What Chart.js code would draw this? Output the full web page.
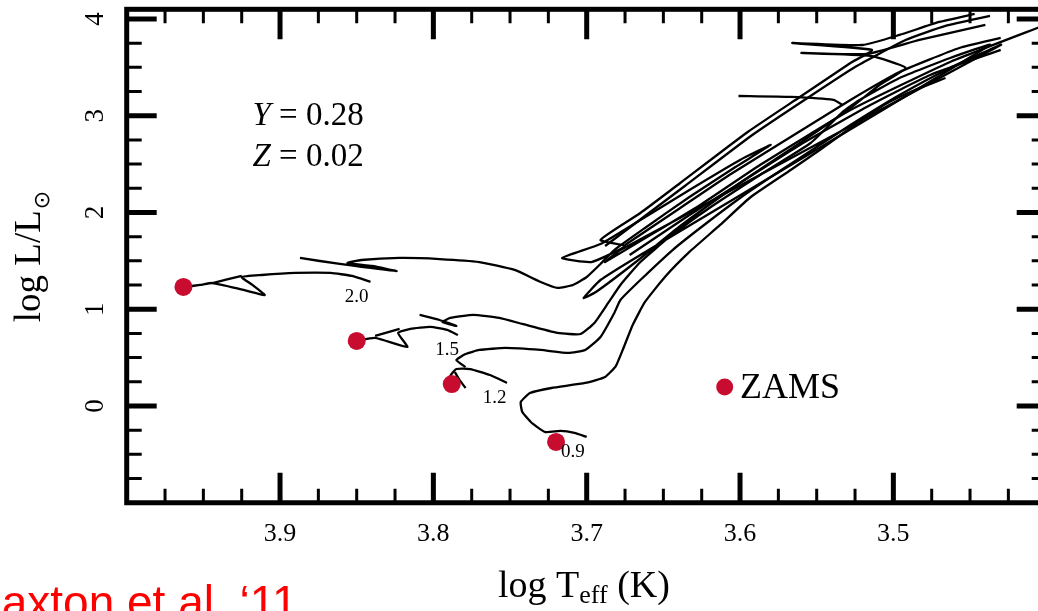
<!DOCTYPE html>
<html>
<head>
<meta charset="utf-8">
<script src="https://cdn.jsdelivr.net/npm/chart.js@4.4.1/dist/chart.umd.min.js"></script>
<style>
  html, body { margin: 0; padding: 0; background: #fff; overflow: hidden; }
</style>
</head>
<body>
<canvas id="hrd" width="1060" height="611"></canvas>
<script>
// evolutionary tracks as [log Teff, log L/Lsun]; each track is a list of pen strokes
const masses = ["2.0", "1.5", "1.2", "0.9"];

const track20 = [
  [[3.963, 1.230], [3.952, 1.251], [3.944, 1.271], [3.926, 1.209], [3.910, 1.147], [3.918, 1.251],
   [3.925, 1.333], [3.912, 1.354], [3.890, 1.375], [3.867, 1.375], [3.853, 1.344], [3.841, 1.282]],
  [[3.944, 1.271], [3.925, 1.344]],
  [[3.887, 1.530], [3.861, 1.468], [3.824, 1.395], [3.840, 1.447], [3.856, 1.478], [3.847, 1.509],
   [3.822, 1.530], [3.796, 1.519], [3.770, 1.488], [3.747, 1.406], [3.730, 1.282], [3.719, 1.220],
   [3.709, 1.251], [3.700, 1.333], [3.691, 1.468], [3.682, 1.612], [3.662, 1.840], [3.633, 2.160],
   [3.603, 2.470], [3.580, 2.698], [3.600, 2.543], [3.633, 2.233], [3.665, 1.922], [3.691, 1.674],
   [3.716, 1.530], [3.697, 1.488], [3.675, 1.654], [3.691, 1.716], [3.665, 1.995], [3.639, 2.305],
   [3.595, 2.832], [3.561, 3.194], [3.528, 3.545], [3.514, 3.680], [3.566, 3.752], [3.520, 3.731],
   [3.496, 3.835], [3.470, 3.969], [3.447, 4.052]],
  [[3.688, 1.654], [3.662, 1.964], [3.636, 2.274], [3.592, 2.801], [3.558, 3.163], [3.525, 3.504],
   [3.492, 3.783], [3.466, 3.928], [3.437, 4.031]]
];

const track15 = [
  [[3.850, 0.672], [3.838, 0.703], [3.817, 0.610], [3.823, 0.755], [3.815, 0.796], [3.802, 0.817],
   [3.791, 0.786], [3.784, 0.734]],
  [[3.838, 0.724], [3.822, 0.796]],
  [[3.809, 0.941], [3.796, 0.889], [3.785, 0.827], [3.794, 0.868], [3.789, 0.910], [3.774, 0.941],
   [3.757, 0.910], [3.742, 0.848], [3.719, 0.755], [3.704, 0.744], [3.695, 0.858], [3.686, 1.065],
   [3.678, 1.251], [3.665, 1.488], [3.646, 1.747], [3.620, 2.047], [3.587, 2.388], [3.554, 2.718],
   [3.533, 3.039], [3.522, 3.163], [3.496, 3.390], [3.463, 3.597], [3.437, 3.731], [3.665, 1.561],
   [3.691, 1.302], [3.702, 1.116], [3.694, 1.178], [3.668, 1.488], [3.639, 1.860], [3.600, 2.305],
   [3.561, 2.718], [3.528, 3.080], [3.509, 3.318], [3.492, 3.494], [3.515, 3.618], [3.560, 3.649],
   [3.517, 3.638], [3.483, 3.783], [3.440, 3.938]],
  [[3.601, 3.204], [3.567, 3.194], [3.539, 3.163], [3.533, 3.111]],
  [[3.675, 1.664], [3.639, 2.047], [3.607, 2.388], [3.567, 2.780], [3.528, 3.163], [3.496, 3.452],
   [3.457, 3.700], [3.430, 3.804]]
];

const track12 = [
  [[3.788, 0.227], [3.789, 0.310], [3.785, 0.382], [3.776, 0.382], [3.763, 0.320], [3.752, 0.238]],
  [[3.786, 0.351], [3.783, 0.269], [3.779, 0.186]],
  [[3.779, 0.403], [3.785, 0.475], [3.779, 0.537], [3.770, 0.579], [3.753, 0.600], [3.730, 0.579],
   [3.712, 0.548], [3.701, 0.579], [3.691, 0.713], [3.682, 0.961], [3.678, 1.096], [3.665, 1.302],
   [3.644, 1.612], [3.626, 1.840], [3.600, 2.150], [3.579, 2.377], [3.561, 2.563], [3.528, 2.904],
   [3.496, 3.214], [3.463, 3.494], [3.430, 3.731], [3.678, 1.612], [3.688, 1.488], [3.626, 2.078],
   [3.587, 2.491], [3.528, 3.059], [3.463, 3.556], [3.401, 3.938]],
  [[3.672, 1.561], [3.633, 1.974], [3.597, 2.336], [3.561, 2.698], [3.515, 3.111], [3.476, 3.421],
   [3.430, 3.680]]
];

const track09 = [
  [[3.700, -0.320], [3.708, -0.279], [3.717, -0.258], [3.727, -0.269], [3.735, -0.186], [3.742, -0.062],
   [3.743, 0.041], [3.737, 0.134], [3.723, 0.186], [3.701, 0.238], [3.688, 0.300], [3.681, 0.413],
   [3.676, 0.600], [3.670, 0.837], [3.662, 1.075], [3.649, 1.333], [3.633, 1.592], [3.613, 1.871],
   [3.593, 2.160], [3.567, 2.439], [3.548, 2.646], [3.528, 2.873], [3.505, 3.121], [3.486, 3.266],
   [3.466, 3.390]]
];

const tracks = [track20, track15, track12, track09];

// zero-age main sequence starting points
const zamsTeff = [3.963, 3.850, 3.788, 3.720];
const zamsLum = [1.230, 0.672, 0.227, -0.372];

// axis ticks
const xTickValues = [3.9, 3.8, 3.7, 3.6, 3.5];
const xTickLabels = ["3.9", "3.8", "3.7", "3.6", "3.5"];
const yTickValues = [0, 1, 2, 3, 4];
const yTickLabels = ["0", "1", "2", "3", "4"];

// where the mass labels sit (centre, baseline)
const massLabelAt = [[3.850, 1.078], [3.791, 0.527], [3.760, 0.031], [3.709, -0.527]];

const serif = '"Liberation Serif", "Times New Roman", serif';
const dotRed = "rgb(200, 12, 48)";

const datasets = [{
  label: "ZAMS",
  data: zamsTeff.map((t, i) => ({ x: t, y: zamsLum[i] })),
  pointRadius: 9,
  pointBackgroundColor: dotRed,
  pointBorderWidth: 0,
  showLine: false,
  order: 0
}, {
  label: "key",
  data: [{ x: 3.610, y: 0.196 }],
  pointRadius: 8.5,
  pointBackgroundColor: dotRed,
  pointBorderWidth: 0,
  showLine: false,
  order: 0
}];

tracks.forEach((segs, k) => {
  segs.forEach(seg => {
    datasets.push({
      label: masses[k],
      data: seg.map(p => ({ x: p[0], y: p[1] })),
      showLine: true,
      borderColor: "#000",
      borderWidth: 2.3,
      pointRadius: 0,
      tension: 0.15,
      order: 1
    });
  });
});

const frame = {
  id: "frame",
  afterDraw(chart) {
    const { ctx, chartArea: a, scales: { x, y } } = chart;
    ctx.save();
    ctx.strokeStyle = "#000";
    ctx.fillStyle = "#000";
    ctx.lineCap = "butt";

    // x ticks, every 0.025, bottom and top, pointing inwards
    for (let i = 1; i < 24; i++) {
      const v = 3.4 + i * 0.025;
      const major = Math.abs(v * 10 - Math.round(v * 10)) < 1e-6;
      const len = major ? 30 : 14;
      const px = x.getPixelForValue(v);
      ctx.lineWidth = major ? 5 : 3;
      ctx.beginPath();
      ctx.moveTo(px, a.bottom); ctx.lineTo(px, a.bottom - len);
      ctx.moveTo(px, a.top); ctx.lineTo(px, a.top + len);
      ctx.stroke();
    }
    // y ticks, every 0.25, left and right
    for (let i = 1; i <= 20; i++) {
      const v = -1 + i * 0.25;
      const major = Math.abs(v - Math.round(v)) < 1e-6;
      const len = major ? 30 : 15;
      const py = y.getPixelForValue(v);
      ctx.lineWidth = major ? 5 : 3;
      ctx.beginPath();
      ctx.moveTo(a.left, py); ctx.lineTo(a.left + len, py);
      ctx.moveTo(a.right, py); ctx.lineTo(a.right - len, py);
      ctx.stroke();
    }
    // frame
    ctx.lineWidth = 5;
    ctx.strokeRect(a.left, a.top, a.right - a.left, a.bottom - a.top);

    // tick labels
    ctx.font = "26px " + serif;
    ctx.textAlign = "center";
    ctx.textBaseline = "alphabetic";
    xTickValues.forEach((v, i) => {
      ctx.fillText(xTickLabels[i], x.getPixelForValue(v), a.bottom + 38);
    });
    ctx.font = "27px " + serif;
    yTickValues.forEach((v, i) => {
      ctx.save();
      ctx.translate(a.left - 24, y.getPixelForValue(v));
      ctx.rotate(-Math.PI / 2);
      ctx.fillText(yTickLabels[i], 0, 0);
      ctx.restore();
    });

    // x axis title: log T_eff (K)
    ctx.textAlign = "left";
    const big = "38px " + serif, small = "26px " + serif;
    ctx.font = big;
    const w1 = ctx.measureText("log T").width;
    const w3 = ctx.measureText(" (K)").width;
    ctx.font = small;
    const w2 = ctx.measureText("eff").width;
    let sx = 584 - (w1 + w2 + w3) / 2;
    ctx.font = big; ctx.fillText("log T", sx, 597);
    ctx.font = small; ctx.fillText("eff", sx + w1, 603);
    ctx.font = big; ctx.fillText(" (K)", sx + w1 + w2, 597);

    // y axis title: log L/L_sun, reading upwards
    ctx.save();
    ctx.translate(40, 257);
    ctx.rotate(-Math.PI / 2);
    ctx.font = "37px " + serif;
    const m1 = ctx.measureText("log L/L").width;
    ctx.font = '22px "DejaVu Sans", ' + serif;
    const m2 = ctx.measureText("\u2299").width;
    const st = -(m1 + m2) / 2;
    ctx.font = "37px " + serif;
    ctx.fillText("log L/L", st, 0);
    ctx.font = '22px "DejaVu Sans", ' + serif;
    ctx.fillText("\u2299", st + m1 + 1, 9);
    ctx.restore();

    // composition
    const comp = [["Y", " = 0.28", 2.904], ["Z", " = 0.02", 2.481]];
    comp.forEach(([sym, rest, lv]) => {
      const px = x.getPixelForValue(3.918), py = y.getPixelForValue(lv);
      ctx.font = "italic 33px " + serif;
      ctx.fillText(sym, px, py);
      const ws = ctx.measureText(sym).width;
      ctx.font = "33px " + serif;
      ctx.fillText(rest, px + ws, py);
    });

    // ZAMS key
    ctx.font = "36px " + serif;
    ctx.fillText("ZAMS", x.getPixelForValue(3.600), y.getPixelForValue(0.083));

    // mass labels
    ctx.font = "19px " + serif;
    ctx.textAlign = "center";
    masses.forEach((m, i) => {
      ctx.fillText(m, x.getPixelForValue(massLabelAt[i][0]), y.getPixelForValue(massLabelAt[i][1]));
    });

    // source
    ctx.fillStyle = "#ff0000";
    ctx.textAlign = "left";
    ctx.font = '46px "Liberation Sans", Arial, sans-serif';
    ctx.fillText("Paxton et al. \u201811", -29, 618);
    ctx.restore();
  }
};

new Chart(document.getElementById("hrd"), {
  type: "scatter",
  data: { datasets },
  options: {
    responsive: false,
    animation: false,
    events: [],
    layout: { padding: { left: 126.7, top: 9.3, right: 13.3, bottom: 108.25 } },
    plugins: { legend: { display: false }, tooltip: { enabled: false } },
    scales: {
      x: { type: "linear", reverse: true, min: 3.4, max: 4.0, display: false },
      y: { type: "linear", min: -1, max: 4.1, display: false }
    }
  },
  plugins: [frame]
});
</script>
</body>
</html>
